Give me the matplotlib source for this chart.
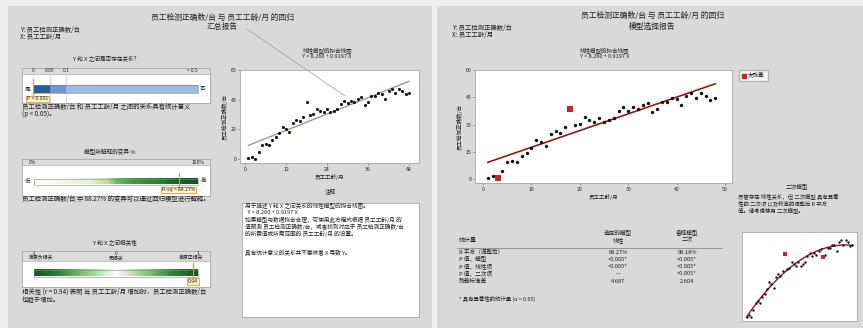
import matplotlib
matplotlib.use('Agg')
import matplotlib.pyplot as plt
import numpy as np
from matplotlib.patches import Rectangle
from matplotlib.lines import Line2D
from matplotlib.colors import LinearSegmentedColormap

plt.rcParams['font.family'] = ['Noto Sans CJK SC', 'DejaVu Sans']

W, H = 863, 328

# data
y_name = '员工检测正确数/台'
x_name = '员工工龄/月'
months = np.arange(1, 49)
correct = [0.5, 1.5, 0.3, 4.4, 9.2, 10.1, 9.2, 12.7, 14.5, 17.2, 21.5, 20.5,
           18.2, 24.6, 26.6, 25.5, 28.4, 38.5, 29.5, 30.3, 34.0, 32.5, 31.6, 33.8,
           31.6, 32.5, 33.8, 37.4, 39.4, 37.6, 39.4, 38.3, 40.7, 41.6, 36.7, 38.3,
           42.5, 42.5, 44.4, 44.0, 40.7, 45.9, 47.1, 44.4, 47.1, 45.7, 43.5, 44.4]
intercept = 8.260
slope = 0.9197
p_value = 0.001
r_sq = 88.27
r_corr = 0.94
big_resid_linear = [3, 18]
big_resid_quad = [18, 35]

p_ticks = [0, 0.05, 0.1, 0.5]
p_tick_labels = ['0', '0.05', '0.1', '> 0.5']
corr_ticks = [-1, 0, 1]
corr_labels = ['高度负相关', '无相关', '高度正相关']

table_rows = ['R 平方（调整后）', 'P 值，模型', 'P 值，线性项', 'P 值，二次项', '残差标准差']
linear_col = ['88.27%', '<0.005*', '<0.005*', '—', '4.687']
quad_col = ['96.18%', '<0.005*', '<0.005*', '<0.005*', '2.604']

TXT = '#1e1e1e'
GRID = '#a8a8a8'
ORANGE = '#e39a2d'
RED = '#c4262e'
DARKRED = '#8e1b1b'

fig = plt.figure(figsize=(W / 100, H / 100), dpi=100, facecolor='#efefef')


def fx(x):
    return x / W


def fy(y):
    return 1 - y / H


def text(x, y, s, size=4.6, ha='left', **kw):
    kw.setdefault('color', TXT)
    fig.text(fx(x), fy(y), s, fontsize=size, ha=ha, va='center', **kw)


def axes_px(x0, y0, x1, y1):
    return fig.add_axes([fx(x0), fy(y1), (x1 - x0) / W, (y1 - y0) / H])


def panel(x0, x1, y0):
    fig.patches.append(Rectangle((fx(x0), 0), (x1 - x0) / W, fy(y0),
                                 transform=fig.transFigure, facecolor='#d9d9d9',
                                 edgecolor='none', zorder=-1))


panel(8, 432, 6)
panel(437, 863, 6)


def scale_box(x0, y0, x1, y1, bx0, bx1, head):
    ax = axes_px(x0, y0, x1, y1)
    ax.set_xlim((x0 - bx0) / (bx1 - bx0), (x1 - bx0) / (bx1 - bx0))
    ax.set_ylim(y1 - y0, 0)
    ax.set_facecolor('white')
    ax.set_xticks([])
    ax.set_yticks([])
    for s in ax.spines.values():
        s.set_color(GRID)
        s.set_linewidth(0.6)
    ax.axhspan(0, head, color='#dcdcdc', lw=0)
    ax.axhline(head, color=GRID, lw=0.5)
    return ax


def marker(ax, pos, label, top, bottom, ly, ha='center', dx=0.0):
    ax.plot([pos, pos], [top, bottom], color=ORANGE, lw=0.9, zorder=5)
    ax.text(pos + dx, ly, label, fontsize=3.7, ha=ha, va='center', color=TXT,
            zorder=6, bbox=dict(boxstyle='square,pad=0.15', fc='#fff6cf',
                                ec=ORANGE, lw=0.6))


# ---------------- left panel: summary report ----------------
text(222, 18, f'{y_name} 与 {x_name} 的回归', 5.6, 'center')
text(222, 27, '汇总报告', 5.6, 'center')
text(20, 30, f'Y: {y_name}', 4.6)
text(20, 37, f'X: {x_name}', 4.6)
fig.add_artist(Line2D([fx(247), fx(345)], [fy(29), fy(96)], color='#9a9a9a',
                      lw=0.5, transform=fig.transFigure))

# is there a relationship?
text(106, 59, 'Y 和 X 之间是否存在关系？', 4.1, 'center')
ax1 = scale_box(22, 68, 210, 103, 33, 198, 6)


def p_pos(p):
    return np.interp(p, p_ticks, [0, 0.1, 0.2, 1.0])


seg_cols = ['#2b5a99', '#6e97cf', '#9dbce3']
for a, b, c in zip(p_ticks[:-1], p_ticks[1:], seg_cols):
    ax1.fill_between([p_pos(a), p_pos(b)], 17, 25, color=c, lw=0)
ax1.plot([0, 1, 1, 0, 0], [17, 17, 25, 25, 17], color='#7a7a7a', lw=0.4)
for p in p_ticks[1:3]:
    ax1.plot([p_pos(p)] * 2, [6, 35], color='#c8c8c8', lw=0.5, zorder=0.5)
for p, lab in zip(p_ticks, p_tick_labels):
    ax1.text(p_pos(p), 3, lab, fontsize=3.5, ha='right' if p == 0.5 else 'center',
             va='center', color=TXT)
ax1.text(-0.035, 21, '是', fontsize=4.0, ha='center', va='center', color=TXT)
ax1.text(1.03, 21, '否', fontsize=4.0, ha='center', va='center', color=TXT)
marker(ax1, p_pos(p_value), f'P < {p_value:.3f}', 11, 28, 31, ha='left', dx=-0.04)
text(22, 107, f'{y_name} 和 {x_name} 之间的关系具有统计意义', 4.6)
text(22, 114, '(p < 0.05)。', 4.6)

# explained variation
text(110, 152, '模型所解释的变异 %', 4.1, 'center')
ax2 = scale_box(22, 159, 210, 196, 34, 198, 6)
green = LinearSegmentedColormap.from_list('g', [
    (0, '#ffffff'), (0.35, '#e3f0d2'), (0.45, '#b5dc9a'), (0.5, '#6fbf64'),
    (0.6, '#3e9a45'), (0.8, '#237a33'), (0.82, '#1a6a2a'), (1, '#10561f')])
ax2.imshow(np.linspace(0, 1, 256)[None, :], cmap=green, aspect='auto',
           extent=[0, 1, 25.5, 19.5], zorder=1)
ax2.plot([0, 1, 1, 0, 0], [19.5, 19.5, 25.5, 25.5, 19.5], color='#8a8a8a', lw=0.4, zorder=2)
ax2.text(-0.035, 3, '0%', fontsize=3.5, ha='left', va='center', color=TXT)
ax2.text(1.04, 3, '100%', fontsize=3.5, ha='right', va='center', color=TXT)
ax2.text(-0.04, 22.5, '低', fontsize=4.0, ha='center', va='center', color=TXT)
ax2.text(1.03, 22.5, '高', fontsize=4.0, ha='center', va='center', color=TXT)
marker(ax2, r_sq / 100, f'R-sq = {r_sq:.2f}%', 14, 28, 31)
ax2.set_ylim(37, 0)
text(22, 199, f'{y_name} 中 {r_sq:.2f}% 的变异可以通过回归模型进行解释。', 4.6)

# correlation
text(115, 243, 'Y 和 X 之间相关性', 4.1, 'center')
ax3 = scale_box(22, 251, 210, 287, 34, 198, 10)
div = LinearSegmentedColormap.from_list('d', [
    (0, '#0f561f'), (0.15, '#2a8238'), (0.3, '#7cc46c'), (0.5, '#ffffff'),
    (0.7, '#7cc46c'), (0.85, '#2a8238'), (1, '#0f561f')])
ax3.imshow(np.linspace(0, 1, 256)[None, :], cmap=div, aspect='auto',
           extent=[0, 1, 25.5, 18.5], zorder=1)
ax3.plot([0, 1, 1, 0, 0], [18.5, 18.5, 25.5, 25.5, 18.5], color='#8a8a8a', lw=0.4, zorder=2)
for c, lab in zip(corr_ticks, corr_labels):
    pos = (c + 1) / 2
    ha = {-1: 'left', 0: 'center', 1: 'right'}[c]
    off = {-1: -0.03, 0: 0, 1: 0.03}[c]
    ax3.text(pos, 2.5, str(c), fontsize=3.5, ha='center', va='center', color=TXT)
    ax3.text(pos + off, 7, lab, fontsize=3.5, ha=ha, va='center', color=TXT)
marker(ax3, (r_corr + 1) / 2, f'{r_corr:.2f}', 12, 29, 30.5)
text(22, 292, f'相关性 (r = {r_corr:.2f}) 表明 当 {x_name} 增加时，{y_name}', 4.6)
text(22, 300, '也趋于增加。', 4.6)


def style_plot(ax, size=3.7):
    ax.set_facecolor('white')
    for s in ax.spines.values():
        s.set_color(GRID)
        s.set_linewidth(0.6)
    ax.tick_params(labelsize=size, length=1.5, width=0.4, pad=1.2,
                   colors='#555555', labelcolor=TXT)


x_line = np.array([months.min(), months.max()])

# fitted line plot (summary)
text(327, 50, '线性模型的拟合线图', 4.0, 'center')
text(327, 56, f'Y = {intercept:.3f} + {slope:.4f} X', 4.0, 'center')
axs = axes_px(240, 70, 419, 163)
style_plot(axs)
axs.plot(x_line, intercept + slope * x_line, color='#a08c78', lw=0.9, zorder=2)
axs.scatter(months, correct, s=5, color='#111111', zorder=3, lw=0)
axs.set_xlim(-1.46, 50.9)
axs.set_ylim(-2.7, 60)
axs.set_xticks([0, 12, 24, 36, 48])
axs.set_yticks([0, 20, 40, 60])
axs.set_xlabel(x_name, fontsize=4.0, labelpad=1.5, color=TXT)
axs.set_ylabel(y_name, fontsize=4.0, labelpad=2, color=TXT)

# comments box
text(330, 192, '注释', 4.1, 'center')
axn = axes_px(242, 203, 419, 317)
axn.set_xticks([])
axn.set_yticks([])
axn.set_facecolor('white')
for s in axn.spines.values():
    s.set_color(GRID)
    s.set_linewidth(0.6)
notes = [
    (206, '用于描述 Y 和 X 之间关系的线性模型的拟合线图。'),
    (213, f'  Y = {intercept:.3f} + {slope:.4f} X'),
    (220, f'如果模型与数据拟合合理，可使用此方程式根据 {x_name} 的'),
    (227, f'值预测 {y_name}，或者找到对应于 {y_name}'),
    (234, f'的所需值或所需范围的 {x_name} 的设置。'),
    (253, '具有统计意义的关系并不意味着 X 导致 Y。'),
]
for yy, s in notes:
    text(245, yy, s, 4.1)

# ---------------- right panel: model selection report ----------------
text(652, 16, f'{y_name} 与 {x_name} 的回归', 5.6, 'center')
text(652, 27, '模型选择报告', 5.6, 'center')
text(452, 28, f'Y: {y_name}', 4.6)
text(452, 35, f'X: {x_name}', 4.6)

text(605, 50, '线性模型的拟合线图', 4.0, 'center')
text(605, 56, f'Y = {intercept:.3f} + {slope:.4f} X', 4.0, 'center')
axr = axes_px(475, 70, 732, 183)
style_plot(axr)
axr.plot(x_line, intercept + slope * x_line, color=DARKRED, lw=1.2, zorder=2)
axr.scatter(months, correct, s=6, color='#111111', zorder=3, lw=0)
big = np.isin(months, big_resid_linear)
axr.scatter(months[big], np.array(correct)[big], s=20, marker='s', color=RED,
            zorder=4, lw=0)
axr.set_xlim(-1.65, 51.45)
axr.set_ylim(-2.2, 60)
axr.set_xticks([0, 10, 20, 30, 40, 50])
axr.set_yticks([0, 15, 30, 45, 60])
axr.set_xlabel(x_name, fontsize=4.0, labelpad=1.5, color=TXT)
axr.set_ylabel(y_name, fontsize=4.0, labelpad=2, color=TXT)

fig.legend(handles=[Line2D([], [], marker='s', ls='none', color=RED, markersize=2.8)],
           labels=['大残差'], loc='upper left', bbox_to_anchor=(fx(736), fy(67)),
           fontsize=4.0, frameon=True, fancybox=False, edgecolor=GRID,
           borderpad=0.5, handletextpad=0.4, handlelength=0.8)

# statistics table
c1, c2 = 618, 687
text(459, 240, '统计量', 4.3)
text(c1, 233, '选定的模型', 4.1, 'center')
text(c1, 240, '线性', 4.1, 'center')
text(c2, 233, '备择模型', 4.1, 'center')
text(c2, 240, '二次', 4.1, 'center')
fig.add_artist(Line2D([fx(457), fx(722)], [fy(248), fy(248)], color='#8a8a8a',
                      lw=0.6, transform=fig.transFigure))
for i, (name, a, b) in enumerate(zip(table_rows, linear_col, quad_col)):
    yy = 252 + i * 7.3
    text(459, yy, name, 4.1)
    text(c1, yy, a, 4.1, 'center')
    text(c2, yy, b, 4.1, 'center')
text(459, 299, '* 具有显著性的统计量 (α = 0.05)', 3.9, style='italic')

# alternative model note and thumbnail
text(797, 186, '二次模型', 4.1, 'center')
text(738, 196, '尽管存在 线性关系，但 二次模型 具有显著', 3.9)
text(738, 203, '性的 二次项 以及较高的调整后 R 平方', 3.9)
text(738, 210, '值。请考虑使用 二次模型。', 3.9)

axq = axes_px(742, 232, 857, 321)
axq.set_facecolor('white')
axq.set_xticks([])
axq.set_yticks([])
for s in axq.spines.values():
    s.set_color(GRID)
    s.set_linewidth(0.6)
coef = np.polyfit(months, correct, 2)
xq = np.linspace(months.min(), months.max(), 100)
axq.plot(xq, np.polyval(coef, xq), color=DARKRED, lw=1.0, zorder=2)
axq.scatter(months, correct, s=3, color='#111111', zorder=3, lw=0)
bq = np.isin(months, big_resid_quad)
axq.scatter(months[bq], np.array(correct)[bq], s=9, marker='s', color=RED,
            zorder=4, lw=0)
axq.set_xlim(-1, 50)
axq.set_ylim(-2, 52)

fig.savefig('out.png', dpi=100, facecolor=fig.get_facecolor())
